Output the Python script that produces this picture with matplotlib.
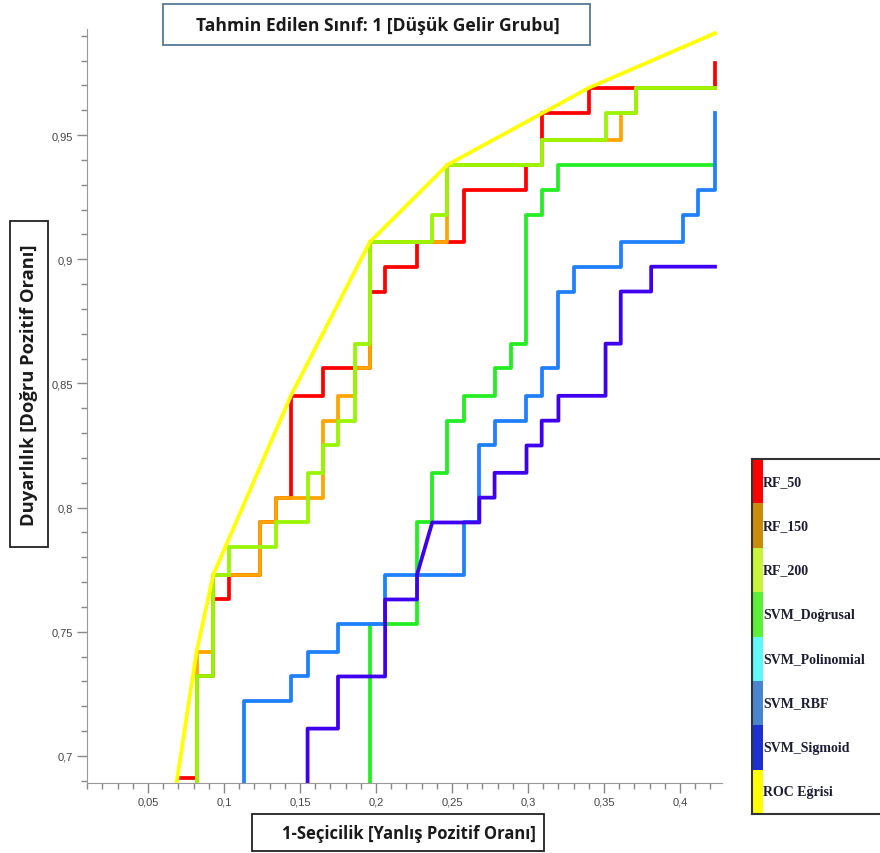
import numpy as np
import matplotlib.pyplot as plt
from matplotlib.patches import Rectangle
from matplotlib.ticker import MultipleLocator, FuncFormatter

# ROC points (false positive rate, true positive rate)
rf50_fpr = [0.072, 0.082, 0.082, 0.093, 0.093, 0.103, 0.103, 0.124, 0.124, 0.134, 0.134,
            0.144, 0.144, 0.165, 0.165, 0.196, 0.196, 0.206, 0.206, 0.227, 0.227, 0.258,
            0.258, 0.299, 0.299, 0.309, 0.309, 0.340, 0.340, 0.423, 0.423]
rf50_tpr = [0.691, 0.691, 0.732, 0.732, 0.763, 0.763, 0.773, 0.773, 0.794, 0.794, 0.804,
            0.804, 0.845, 0.845, 0.856, 0.856, 0.887, 0.887, 0.897, 0.897, 0.907, 0.907,
            0.928, 0.928, 0.938, 0.938, 0.959, 0.959, 0.969, 0.969, 0.979]

rf150_fpr = [0.082, 0.082, 0.093, 0.093, 0.124, 0.124, 0.134, 0.134, 0.165, 0.165, 0.175,
             0.175, 0.186, 0.186, 0.196, 0.196, 0.247, 0.247, 0.309, 0.309, 0.361, 0.361,
             0.371, 0.371, 0.423]
rf150_tpr = [0.680, 0.742, 0.742, 0.773, 0.773, 0.794, 0.794, 0.804, 0.804, 0.835, 0.835,
             0.845, 0.845, 0.856, 0.856, 0.907, 0.907, 0.938, 0.938, 0.948, 0.948, 0.959,
             0.959, 0.969, 0.969]

rf200_fpr = [0.082, 0.082, 0.093, 0.093, 0.103, 0.103, 0.134, 0.134, 0.155, 0.155, 0.165,
             0.165, 0.175, 0.175, 0.186, 0.186, 0.196, 0.196, 0.237, 0.237, 0.247, 0.247,
             0.309, 0.309, 0.351, 0.351, 0.371, 0.371, 0.423]
rf200_tpr = [0.680, 0.732, 0.732, 0.773, 0.773, 0.784, 0.784, 0.794, 0.794, 0.814, 0.814,
             0.825, 0.825, 0.835, 0.835, 0.866, 0.866, 0.907, 0.907, 0.918, 0.918, 0.938,
             0.938, 0.948, 0.948, 0.959, 0.959, 0.969, 0.969]

lin_fpr = [0.196, 0.196, 0.227, 0.227, 0.237, 0.237, 0.247, 0.247, 0.258, 0.258, 0.278,
           0.278, 0.289, 0.289, 0.299, 0.299, 0.309, 0.309, 0.320, 0.320, 0.423]
lin_tpr = [0.680, 0.753, 0.753, 0.794, 0.794, 0.814, 0.814, 0.835, 0.835, 0.845, 0.845,
           0.856, 0.856, 0.866, 0.866, 0.918, 0.918, 0.928, 0.928, 0.938, 0.938]

rbf_fpr = [0.113, 0.113, 0.144, 0.144, 0.155, 0.155, 0.175, 0.175, 0.206, 0.206, 0.258,
           0.258, 0.268, 0.268, 0.278, 0.278, 0.299, 0.299, 0.309, 0.309, 0.320, 0.320,
           0.330, 0.330, 0.361, 0.361, 0.402, 0.402, 0.412, 0.412, 0.423, 0.423]
rbf_tpr = [0.680, 0.722, 0.722, 0.732, 0.732, 0.742, 0.742, 0.753, 0.753, 0.773, 0.773,
           0.794, 0.794, 0.825, 0.825, 0.835, 0.835, 0.845, 0.845, 0.856, 0.856, 0.887,
           0.887, 0.897, 0.897, 0.907, 0.907, 0.918, 0.918, 0.928, 0.928, 0.959]

sig_fpr = [0.155, 0.155, 0.175, 0.175, 0.206, 0.206, 0.227, 0.227, 0.237, 0.268, 0.268,
           0.278, 0.278, 0.299, 0.299, 0.309, 0.309, 0.320, 0.320, 0.351, 0.351, 0.361,
           0.361, 0.381, 0.381, 0.423]
sig_tpr = [0.680, 0.711, 0.711, 0.732, 0.732, 0.763, 0.763, 0.773, 0.794, 0.794, 0.804,
           0.804, 0.814, 0.814, 0.825, 0.825, 0.835, 0.835, 0.845, 0.845, 0.866, 0.866,
           0.887, 0.887, 0.897, 0.897]

# convex hull ("ROC Eğrisi")
hull_fpr = [0.0685, 0.082, 0.093, 0.144, 0.196, 0.247, 0.340, 0.423]
hull_tpr = [0.688, 0.742, 0.773, 0.845, 0.907, 0.938, 0.969, 0.991]

legend_labels = ["RF_50", "RF_150", "RF_200", "SVM_Doğrusal", "SVM_Polinomial",
                 "SVM_RBF", "SVM_Sigmoid", "ROC Eğrisi"]
legend_colors = ["#ff0000", "#c98c0a", "#c8f43c", "#5cef3a", "#62f7f7",
                 "#4a86cf", "#1c30d2", "#ffff00"]

W, H = 880, 854
fig = plt.figure(figsize=(W / 100, H / 100), dpi=100)
ax = fig.add_axes([87 / W, 70 / H, 635 / W, 754 / H])

curves = [(rf50_fpr, rf50_tpr, "#ff0000"),
          (rf150_fpr, rf150_tpr, "#ffa500"),
          (rf200_fpr, rf200_tpr, "#99f500"),
          (lin_fpr, lin_tpr, "#22ee22"),
          (rbf_fpr, rbf_tpr, "#1e80ff"),
          (sig_fpr, sig_tpr, "#4000f0"),
          (hull_fpr, hull_tpr, "#ffff00")]
for fpr, tpr, col in curves:
    ax.plot(fpr, tpr, color=col, lw=2.7)

ax.set_xlim(0.0099, 0.4276)
ax.set_ylim(0.6891, 0.9927)

fmt = FuncFormatter(lambda v, p: f"{v:.2f}".rstrip("0").replace(".", ","))
ax.xaxis.set_major_locator(MultipleLocator(0.05))
ax.xaxis.set_minor_locator(MultipleLocator(0.01))
ax.yaxis.set_major_locator(MultipleLocator(0.05))
ax.yaxis.set_minor_locator(MultipleLocator(0.01))
ax.xaxis.set_major_formatter(fmt)
ax.yaxis.set_major_formatter(fmt)
for lab in ax.get_xticklabels() + ax.get_yticklabels():
    lab.set_family("Liberation Sans")

for s in ["top", "right"]:
    ax.spines[s].set_visible(False)
for s in ["left", "bottom"]:
    ax.spines[s].set_color("#999999")
ax.tick_params(which="major", length=7, width=1, color="#888888",
               labelsize=8, labelcolor="#444444", pad=3)
ax.tick_params(which="minor", length=4, width=1, color="#888888")

# title and axis label boxes
def boxed(x0, y0, x1, y1, edge):
    fig.patches.append(Rectangle((x0 / W, 1 - y1 / H), (x1 - x0) / W, (y1 - y0) / H,
                                 transform=fig.transFigure, facecolor="white",
                                 edgecolor=edge, lw=1.3))

boxed(163, 5, 590, 46, "#56789a")
fig.text(378 / W, 1 - 26 / H, "Tahmin Edilen Sınıf: 1 [Düşük Gelir Grubu]",
         ha="center", va="center", fontsize=12.6, fontweight="bold",
         family="Open Sans", color="#1a1a1a")

boxed(10, 222, 48, 548, "#222222")
fig.text(29 / W, 1 - 385 / H, "Duyarlılık [Doğru Pozitif Oranı]", rotation=90,
         ha="center", va="center", fontsize=13.2, fontweight="bold",
         family="Open Sans", color="#1a1a1a")

boxed(252, 815, 544, 852, "#222222")
fig.text(409 / W, 1 - 834 / H, "1-Seçicilik [Yanlış Pozitif Oranı]",
         ha="center", va="center", fontsize=12, fontweight="bold",
         family="Open Sans", color="#1a1a1a")

# legend panel
lg = fig.add_axes([752 / W, 1 - 815 / H, 140 / W, 355 / H])
lg.set_xlim(0, 140)
lg.set_ylim(len(legend_labels), 0)
lg.set_xticks([])
lg.set_yticks([])
for s in lg.spines.values():
    s.set_linewidth(1.5)
    s.set_color("#333333")
for i, (lab, col) in enumerate(zip(legend_labels, legend_colors)):
    lg.add_patch(Rectangle((0, i), 10.5, 1, color=col, lw=0))
    lg.text(11, i + 0.5, lab, ha="left", va="center", fontsize=10,
            fontweight="bold", family="Liberation Serif", color="#1c1c34")

fig.savefig("out.png", dpi=100)
